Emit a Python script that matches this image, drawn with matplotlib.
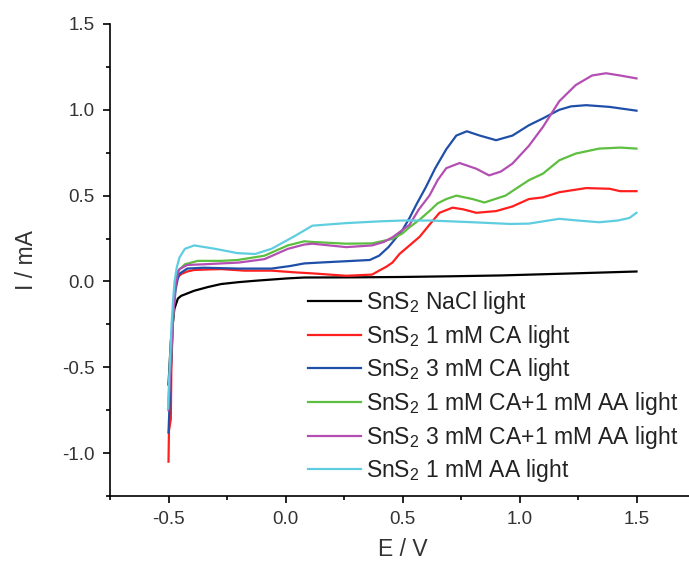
import matplotlib
matplotlib.use("Agg")
import matplotlib.pyplot as plt
from matplotlib.ticker import MultipleLocator, FormatStrFormatter

plt.rcParams['font.family'] = ['Liberation Sans', 'DejaVu Sans']
plt.rcParams['mathtext.default'] = 'regular'

labels = ["SnS$_2$ NaCl light", "SnS$_2$ 1 mM CA light", "SnS$_2$ 3 mM CA light",
          "SnS$_2$ 1 mM CA+1 mM AA light", "SnS$_2$ 3 mM CA+1 mM AA light",
          "SnS$_2$ 1 mM AA light"]
colors = ["#000000", "#ff1f1f", "#1f4fa8", "#5cbf3f", "#b34fb3", "#5fcde0"]

black_E = [-0.50, -0.49, -0.475, -0.46, -0.446, -0.42, -0.39, -0.33, -0.275, -0.20, -0.13, 0.01, 0.08, 0.30, 0.49, 0.70, 0.92, 1.23, 1.50]
black_I = [-0.60, -0.35, -0.16, -0.10, -0.084, -0.07, -0.054, -0.032, -0.015, -0.004, 0.004, 0.018, 0.023, 0.024, 0.026, 0.030, 0.035, 0.047, 0.058]

red_E = [-0.50, -0.498, -0.49, -0.488, -0.483, -0.478, -0.472, -0.467, -0.456, -0.446, -0.42, -0.39, -0.33, -0.275, -0.175, -0.06, 0.04, 0.115, 0.26, 0.37, 0.40, 0.43, 0.457, 0.487, 0.53, 0.573, 0.615, 0.658, 0.714, 0.76, 0.815, 0.90, 0.97, 1.04, 1.10, 1.17, 1.285, 1.385, 1.43, 1.50]
red_I = [-1.05, -0.87, -0.80, -0.52, -0.30, -0.12, -0.04, 0.0, 0.03, 0.043, 0.058, 0.067, 0.070, 0.072, 0.063, 0.063, 0.053, 0.047, 0.033, 0.040, 0.063, 0.085, 0.11, 0.16, 0.21, 0.26, 0.33, 0.40, 0.43, 0.42, 0.40, 0.41, 0.437, 0.48, 0.49, 0.52, 0.544, 0.54, 0.526, 0.526]

blue_E = [-0.50, -0.495, -0.488, -0.48, -0.47, -0.46, -0.453, -0.42, -0.35, -0.20, -0.06, 0.02, 0.08, 0.145, 0.36, 0.40, 0.44, 0.50, 0.53, 0.56, 0.60, 0.64, 0.687, 0.73, 0.775, 0.83, 0.90, 0.97, 1.04, 1.10, 1.17, 1.22, 1.285, 1.385, 1.50]
blue_I = [-0.88, -0.70, -0.45, -0.20, -0.05, 0.02, 0.045, 0.075, 0.080, 0.075, 0.075, 0.09, 0.105, 0.11, 0.125, 0.15, 0.20, 0.30, 0.37, 0.45, 0.55, 0.66, 0.77, 0.85, 0.875, 0.85, 0.823, 0.85, 0.91, 0.95, 1.00, 1.02, 1.027, 1.017, 0.995]

green_E = [-0.50, -0.49, -0.48, -0.47, -0.46, -0.43, -0.375, -0.275, -0.205, -0.09, 0.01, 0.08, 0.115, 0.26, 0.37, 0.457, 0.50, 0.53, 0.573, 0.615, 0.65, 0.687, 0.73, 0.80, 0.85, 0.94, 1.04, 1.10, 1.17, 1.24, 1.34, 1.43, 1.50]
green_I = [-0.70, -0.45, -0.20, 0.0, 0.06, 0.10, 0.12, 0.12, 0.125, 0.15, 0.21, 0.234, 0.23, 0.22, 0.222, 0.248, 0.28, 0.316, 0.36, 0.41, 0.455, 0.48, 0.50, 0.48, 0.46, 0.50, 0.59, 0.628, 0.706, 0.745, 0.774, 0.78, 0.774]

magenta_E = [-0.50, -0.49, -0.48, -0.47, -0.46, -0.453, -0.42, -0.35, -0.20, -0.09, 0.01, 0.08, 0.115, 0.26, 0.37, 0.42, 0.457, 0.50, 0.53, 0.57, 0.615, 0.65, 0.687, 0.744, 0.815, 0.87, 0.92, 0.97, 1.04, 1.10, 1.17, 1.24, 1.31, 1.37, 1.43, 1.50]
magenta_I = [-0.75, -0.45, -0.20, -0.02, 0.05, 0.072, 0.096, 0.10, 0.11, 0.13, 0.19, 0.215, 0.22, 0.20, 0.21, 0.23, 0.257, 0.30, 0.33, 0.42, 0.50, 0.59, 0.66, 0.69, 0.657, 0.618, 0.64, 0.687, 0.79, 0.90, 1.05, 1.144, 1.20, 1.213, 1.20, 1.183]

cyan_E = [-0.502, -0.497, -0.49, -0.487, -0.48, -0.474, -0.465, -0.453, -0.43, -0.39, -0.30, -0.205, -0.13, -0.06, 0.0, 0.04, 0.115, 0.26, 0.40, 0.50, 0.62, 0.80, 0.96, 1.04, 1.17, 1.25, 1.34, 1.42, 1.47, 1.50]
cyan_I = [-0.74, -0.55, -0.35, -0.25, -0.10, 0.0, 0.08, 0.14, 0.19, 0.21, 0.19, 0.165, 0.16, 0.19, 0.235, 0.265, 0.325, 0.34, 0.35, 0.355, 0.355, 0.345, 0.335, 0.337, 0.365, 0.355, 0.345, 0.355, 0.37, 0.40]

series = [(black_E, black_I), (red_E, red_I), (blue_E, blue_I),
          (green_E, green_I), (magenta_E, magenta_I), (cyan_E, cyan_I)]

fig = plt.figure(figsize=(6.89, 5.65), dpi=100)
ax = fig.add_axes([110/689, 1-496/565, 585/689, 472/565])

for (E, I), lab, c in zip(series, labels, colors):
    ax.plot(E, I, color=c, lw=1.6, label=lab)

ax.set_xlim(-0.75, 1.75)
ax.set_ylim(-1.25, 1.5)
ax.xaxis.set_major_locator(MultipleLocator(0.5))
ax.xaxis.set_minor_locator(MultipleLocator(0.25))
ax.yaxis.set_major_locator(MultipleLocator(0.5))
ax.yaxis.set_minor_locator(MultipleLocator(0.25))
ax.xaxis.set_major_formatter(FormatStrFormatter('%.1f'))
ax.yaxis.set_major_formatter(FormatStrFormatter('%.1f'))
for s in ['top', 'right']:
    ax.spines[s].set_visible(False)
for s in ['left', 'bottom']:
    ax.spines[s].set_linewidth(1.2)
ax.tick_params(which='major', direction='out', length=5, width=1.2, labelsize=13.5,
               labelcolor='#333333', pad=6)
ax.tick_params(which='minor', direction='out', length=3, width=1.2)

ax.set_xlabel("E / V", fontsize=16.5, color='#333333', labelpad=7)
ax.set_ylabel("I / mA", fontsize=16.5, color='#333333', labelpad=17)

leg = ax.legend(loc='upper left', bbox_to_anchor=(198/585, 1-(289-24)/472), frameon=False,
                fontsize=16.5, handlelength=2.3, handletextpad=0.25, labelspacing=0.29,
                borderpad=0, borderaxespad=0)
for t in leg.get_texts():
    t.set_color('#222222')

fig.savefig("out.png", dpi=100)
